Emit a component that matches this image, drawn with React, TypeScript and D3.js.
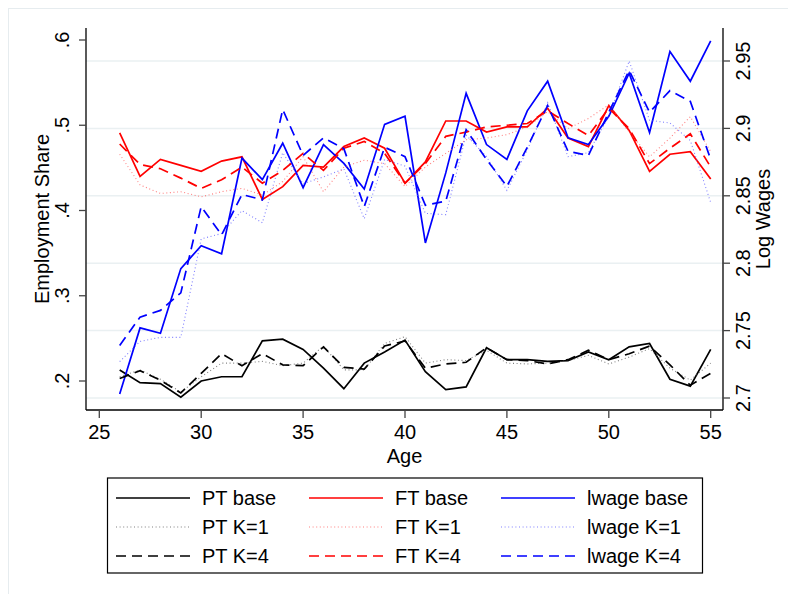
import React from "react";
import * as d3 from "d3";

const ages = [26,27,28,29,30,31,32,33,34,35,36,37,38,39,40,41,42,43,44,45,46,47,48,49,50,51,52,53,54,55];

const ptBase = [0.213,0.198,0.197,0.181,0.200,0.205,0.205,0.247,0.249,0.237,0.215,0.191,0.221,0.234,0.248,0.211,0.190,0.193,0.239,0.225,0.225,0.223,0.224,0.234,0.225,0.240,0.244,0.202,0.194,0.237];
const ptK1 = [0.205,0.213,0.202,0.187,0.205,0.221,0.221,0.223,0.218,0.221,0.241,0.213,0.213,0.244,0.252,0.221,0.225,0.224,0.236,0.221,0.220,0.221,0.224,0.230,0.220,0.228,0.238,0.215,0.201,0.221];
const ptK4 = [0.203,0.212,0.201,0.186,0.209,0.232,0.218,0.232,0.219,0.218,0.240,0.216,0.214,0.241,0.247,0.215,0.220,0.222,0.239,0.225,0.224,0.220,0.225,0.236,0.225,0.232,0.241,0.219,0.195,0.209];

const ftBase = [0.491,0.440,0.460,0.453,0.446,0.458,0.463,0.413,0.428,0.453,0.451,0.475,0.485,0.473,0.432,0.457,0.505,0.505,0.492,0.498,0.498,0.520,0.485,0.475,0.523,0.494,0.446,0.466,0.469,0.437];
const ftK1 = [0.466,0.430,0.420,0.422,0.416,0.422,0.426,0.418,0.434,0.463,0.422,0.451,0.459,0.455,0.428,0.451,0.467,0.483,0.485,0.489,0.498,0.516,0.496,0.508,0.524,0.492,0.463,0.485,0.510,0.469];
const ftK4 = [0.478,0.454,0.449,0.438,0.426,0.436,0.451,0.432,0.447,0.467,0.447,0.473,0.481,0.467,0.432,0.455,0.487,0.492,0.498,0.500,0.502,0.517,0.502,0.488,0.520,0.496,0.455,0.473,0.490,0.451];

const lwBase = [2.703,2.752,2.748,2.796,2.813,2.807,2.878,2.862,2.889,2.856,2.888,2.874,2.855,2.903,2.909,2.815,2.867,2.926,2.888,2.877,2.913,2.935,2.893,2.888,2.909,2.941,2.897,2.957,2.935,2.965];
const lwK1 = [2.727,2.742,2.745,2.745,2.818,2.822,2.839,2.830,2.882,2.859,2.864,2.870,2.833,2.877,2.872,2.837,2.836,2.895,2.879,2.854,2.884,2.919,2.879,2.882,2.909,2.950,2.906,2.904,2.891,2.845];
const lwK4 = [2.739,2.760,2.765,2.778,2.842,2.821,2.851,2.847,2.914,2.880,2.893,2.885,2.842,2.886,2.879,2.843,2.846,2.899,2.877,2.857,2.886,2.917,2.883,2.880,2.912,2.943,2.912,2.928,2.920,2.877];

const xTicks = [25,30,35,40,45,50,55];
const leftTicks = [0.2,0.3,0.4,0.5,0.6];
const leftTickLabels = [".2",".3",".4",".5",".6"];
const rightTicks = [2.7,2.75,2.8,2.85,2.9,2.95];
const rightTickLabels = ["2.7","2.75","2.8","2.85","2.9","2.95"];

const FONT = "'Liberation Sans', Arial, Helvetica, sans-serif";
const FS = 20;

type Sty = { color: string; width: number; dash?: string; opacity?: number };
const solid = (c: string): Sty => ({ color: c, width: 1.7 });
const dotted = (c: string): Sty => ({ color: c, width: 1.1, dash: "1 2.6", opacity: 0.75 });
const dashed = (c: string): Sty => ({ color: c, width: 1.7, dash: "10 6" });

const series = [
  { name: "PT base", data: ptBase, axis: "L", sty: solid("#000000") },
  { name: "FT base", data: ftBase, axis: "L", sty: solid("#ff0000") },
  { name: "lwage base", data: lwBase, axis: "R", sty: solid("#0000ff") },
  { name: "PT K=1", data: ptK1, axis: "L", sty: dotted("#555555") },
  { name: "FT K=1", data: ftK1, axis: "L", sty: dotted("#ff5555") },
  { name: "lwage K=1", data: lwK1, axis: "R", sty: dotted("#5555ff") },
  { name: "PT K=4", data: ptK4, axis: "L", sty: dashed("#000000") },
  { name: "FT K=4", data: ftK4, axis: "L", sty: dashed("#ff0000") },
  { name: "lwage K=4", data: lwK4, axis: "R", sty: dashed("#0000ff") },
];

export default function App() {
  const W = 788, H = 594;
  const left = 86, right = 723, top = 28, bottom = 410;
  const x = d3.scaleLinear().domain([25, 55]).range([99.3, 710.7]);
  const yL = d3.scaleLinear().domain([0.2, 0.6]).range([381, 40]);
  const yR = d3.scaleLinear().domain([2.7, 2.95]).range([398, 61]);

  const lineL = d3.line<number>().x((_, i) => x(ages[i])).y((d) => yL(d));
  const lineR = d3.line<number>().x((_, i) => x(ages[i])).y((d) => yR(d));

  const legTop = 478, legBottom = 573, legLeft = 107.5, legRight = 702.5;
  const rowY = [498, 527, 556];
  const colLine = [116, 309, 501];
  const lineLen = 74;
  const textGap = 12;

  return (
    <svg
      width={W}
      height={H}
      style={{ position: "absolute", left: 0, top: 0, background: "#fff" }}
      fontFamily={FONT}
    >
      <rect x={0} y={0} width={W} height={H} fill="#ffffff" />
      <rect x={8.5} y={8.5} width={W + 20} height={H + 20} fill="none" stroke="#e6ecef" strokeWidth={1} />

      {rightTicks.map((t) => (
        <line key={"g" + t} x1={left} x2={right} y1={yR(t)} y2={yR(t)} stroke="#eaf0f2" strokeWidth={1.5} />
      ))}

      {series.map((s) => (
        <path
          key={s.name}
          d={(s.axis === "L" ? lineL : lineR)(s.data) || ""}
          fill="none"
          stroke={s.sty.color}
          strokeWidth={s.sty.width}
          strokeDasharray={s.sty.dash}
          strokeOpacity={s.sty.opacity ?? 1}
          strokeLinejoin="miter"
        />
      ))}

      <line x1={left} x2={left} y1={top} y2={bottom} stroke="#000" strokeWidth={1.3} />
      <line x1={right} x2={right} y1={top} y2={bottom} stroke="#000" strokeWidth={1.3} />
      <line x1={left} x2={right} y1={bottom} y2={bottom} stroke="#000" strokeWidth={1.3} />

      {leftTicks.map((t, i) => (
        <g key={"lt" + t}>
          <line x1={left - 7} x2={left} y1={yL(t)} y2={yL(t)} stroke="#444" strokeWidth={1.3} />
          <text
            transform={`translate(${69},${yL(t)}) rotate(-90)`}
            textAnchor="middle"
            fontSize={FS}
            fill="#000"
          >
            {leftTickLabels[i]}
          </text>
        </g>
      ))}
      {rightTicks.map((t, i) => (
        <g key={"rt" + t}>
          <line x1={right} x2={right + 7} y1={yR(t)} y2={yR(t)} stroke="#444" strokeWidth={1.3} />
          <text
            transform={`translate(${750},${yR(t)}) rotate(-90)`}
            textAnchor="middle"
            fontSize={FS}
            fill="#000"
          >
            {rightTickLabels[i]}
          </text>
        </g>
      ))}
      {xTicks.map((t) => (
        <g key={"xt" + t}>
          <line x1={x(t)} x2={x(t)} y1={bottom} y2={bottom + 8} stroke="#444" strokeWidth={1.3} />
          <text x={x(t)} y={439} textAnchor="middle" fontSize={FS} fill="#000">
            {t}
          </text>
        </g>
      ))}

      <text x={(left + right) / 2} y={463} textAnchor="middle" fontSize={FS} fill="#000">
        Age
      </text>
      <text transform={`translate(49,${(top + bottom) / 2}) rotate(-90)`} textAnchor="middle" fontSize={FS} fill="#000">
        Employment Share
      </text>
      <text transform={`translate(770,${(top + bottom) / 2}) rotate(-90)`} textAnchor="middle" fontSize={FS} fill="#000">
        Log Wages
      </text>

      <rect x={legLeft} y={legTop} width={legRight - legLeft} height={legBottom - legTop} fill="#fff" stroke="#000" strokeWidth={1.2} />
      {series.map((s, i) => {
        const row = Math.floor(i / 3);
        const col = i % 3;
        const y = rowY[row];
        const x0 = colLine[col];
        return (
          <g key={"lg" + s.name}>
            <line
              x1={x0}
              x2={x0 + lineLen}
              y1={y}
              y2={y}
              stroke={s.sty.color}
              strokeWidth={s.sty.width}
              strokeDasharray={s.sty.dash}
              strokeOpacity={s.sty.opacity ?? 1}
            />
            <text x={x0 + lineLen + textGap} y={y + 7} fontSize={FS} fill="#000">
              {s.name}
            </text>
          </g>
        );
      })}
    </svg>
  );
}
